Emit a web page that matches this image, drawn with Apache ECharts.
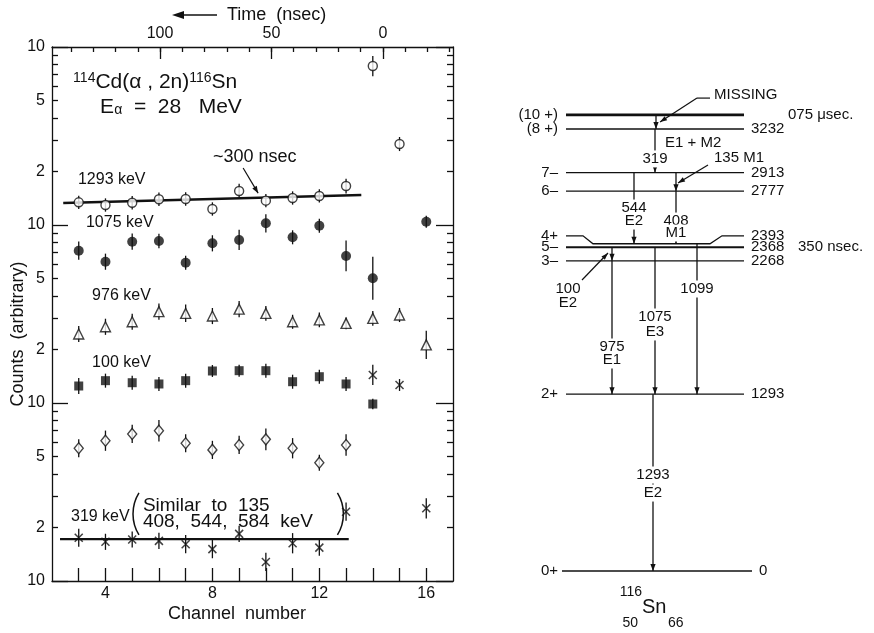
<!DOCTYPE html>
<html>
<head>
<meta charset="utf-8">
<script src="https://cdn.jsdelivr.net/npm/echarts@6/dist/echarts.min.js"></script>
<style>
  html, body { margin: 0; padding: 0; background: #fff; }
  #chart { width: 874px; height: 633px; }
</style>
</head>
<body>
<div id="chart"></div>
<script>
// ---------- Delayed-coincidence time spectra, 114Cd(a,2n)116Sn ----------
const channels = [3, 4, 5, 6, 7, 8, 9, 10, 11, 12, 13, 14, 15, 16];

// counts on the stacked log scale (each line sits in its own decade)
const counts1293 = [134.1, 129.5, 133.4, 139.5, 140.0, 123.0, 155.2, 137.0, 141.8, 145.6, 165.6, 782, 285, null];
const err1293    = [0.09, 0.09, 0.09, 0.09, 0.09, 0.09, 0.10, 0.09, 0.09, 0.09, 0.10, 0.14, 0.095, null];
const counts1075 = [71.7, 62.2, 80.6, 81.3, 61.4, 78.9, 82.4, 102.2, 85.3, 99.1, 67.0, 50.2, null, 104.3];
const err1075    = [0.125, 0.11, 0.11, 0.10, 0.095, 0.11, 0.14, 0.125, 0.095, 0.095, 0.22, 0.32, null, 0.08];
const counts976  = [24.4, 26.8, 28.6, 32.6, 31.9, 30.8, 33.7, 31.9, 28.6, 29.3, 28.0, 29.9, 31.2, 21.2];
const err976     = [0.11, 0.11, 0.11, 0.11, 0.12, 0.11, 0.11, 0.10, 0.095, 0.10, 0.08, 0.10, 0.095, 0.20];
const counts100  = [12.46, 13.35, 13.0, 12.79, 13.35, 15.13, 15.19, 15.19, 13.17, 14.05, 12.79, 9.87, null, null];
const err100     = [0.11, 0.095, 0.095, 0.095, 0.095, 0.08, 0.08, 0.095, 0.095, 0.095, 0.095, 0.07, null, null];
const countsOpenDiamond = [5.57, 6.14, 6.70, 6.99, 5.94, 5.45, 5.81, 6.25, 5.57, 4.62, 5.81, null, null, null];
const errOpenDiamond    = [0.125, 0.14, 0.125, 0.15, 0.125, 0.125, 0.125, 0.15, 0.14, 0.11, 0.15, null, null, null];
const counts319  = [1.75, 1.66, 1.71, 1.68, 1.61, 1.51, 1.84, 1.28, 1.63, 1.54, 2.45, 14.37, 12.62, 2.56];
const err319     = [0.125, 0.11, 0.11, 0.11, 0.125, 0.125, 0.11, 0.125, 0.14, 0.11, 0.125, 0.14, 0.08, 0.14];

// fitted decay lines
const fit1293Channels = [2.42, 13.57];
const fit1293Counts   = [132.9, 147.4];
const fit319Channels  = [2.3, 13.1];
const fit319Counts    = [1.72, 1.72];

// axis ticks and labels
const channelTickValues  = [3, 4, 5, 6, 7, 8, 9, 10, 11, 12, 13, 14, 15, 16];
const channelLabelValues = [4, 8, 12, 16];
const timeTickValues  = [-30, -20, -10, 0, 10, 20, 30, 40, 50, 60, 70, 80, 90, 100, 110, 120, 130, 140];
const timeLabelValues = [0, 50, 100];
const countDecades    = [1, 10, 100, 1000];
const countMantissaTicks  = [2, 3, 4, 5, 6, 7, 8, 9];
const countMantissaLabels = [1, 2, 5];
const nsPerChannel  = 12;
const promptChannel = 14.375;

// ---------- Level scheme of 116Sn ----------
const levelSpin   = ['0+', '2+', '3\u2013', '5\u2013', '4+', '6\u2013', '7\u2013', '(8 +)', '(10 +)'];
const levelEnergy = [0, 1293, 2268, 2368, 2393, 2777, 2913, 3232, 3335];
const levelText   = ['0', '1293', '2268', '2368', '2393', '2777', '2913', '3232', ''];
const levelLife   = ['', '', '', '350 nsec.', '', '', '', '', '075 \u03bcsec.'];

const transFrom = [8, 7, 6, 6, 5, 3, 2, 3, 4, 1];
const transTo   = [7, 6, 5, 4, 4, 2, 1, 1, 1, 0];
const transGamma = ['', '319', '135', '544', '408', '100', '975', '1075', '1099', '1293'];
const transMult  = ['', 'E1 + M2', 'M1', 'E2', 'M1', 'E2', 'E1', 'E3', '', 'E2'];

// ---------- drawing ----------
const FONT = '"Liberation Sans", Arial, sans-serif';
const INK = '#111';

const chart = echarts.init(document.getElementById('chart'), null, { renderer: 'canvas' });

function pts(vals) {
  const out = [];
  vals.forEach((v, i) => { if (v != null) out.push([channels[i], v]); });
  return out;
}
function bars(vals, errs) {
  const out = [];
  vals.forEach((v, i) => {
    if (v != null) out.push([channels[i], v / (1 + errs[i]), v * (1 + errs[i])]);
  });
  return out;
}
function log10(v) { return Math.log(v) / Math.LN10; }

function seg(p, q, w) {
  return { type: 'line', shape: { x1: p[0], y1: p[1], x2: q[0], y2: q[1] },
           style: { stroke: INK, lineWidth: w || 1.3 } };
}
function head(tip, from, len, half) {
  const dx = tip[0] - from[0], dy = tip[1] - from[1];
  const d = Math.hypot(dx, dy) || 1, ux = dx / d, uy = dy / d;
  const bx = tip[0] - ux * len, by = tip[1] - uy * len;
  return { type: 'polygon',
           shape: { points: [[tip[0], tip[1]], [bx - uy * half, by + ux * half], [bx + uy * half, by - ux * half]] },
           style: { fill: INK } };
}
function txt(p, s, extra) {
  return { type: 'text', x: p[0], y: p[1],
           style: Object.assign({ text: s, fill: INK, font: '15px ' + FONT,
                                  align: 'center', verticalAlign: 'middle' }, extra || {}) };
}

// error bar series
function errorSeries(vals, errs) {
  return {
    type: 'custom', xAxisIndex: 0, yAxisIndex: 0, z: 2, silent: true,
    data: bars(vals, errs),
    encode: { x: 0, y: [1, 2] },
    renderItem(params, api) {
      const lo = api.coord([api.value(0), api.value(1)]);
      const hi = api.coord([api.value(0), api.value(2)]);
      return seg(lo, hi, 1.3);
    }
  };
}
function markerSeries(name, vals, symbol, size, filled) {
  return {
    name, type: 'scatter', xAxisIndex: 0, yAxisIndex: 0, z: 4,
    data: pts(vals), symbol, symbolSize: size,
    itemStyle: filled ? { color: INK } : { color: '#fff', borderColor: INK, borderWidth: 1.4 }
  };
}

// text placed on the counts plot (channel, counts)
const plotNotes = [
  { t: '1293 keV', ch: 2.97, v: 179, size: 16 },
  { t: '1075 keV', ch: 3.27, v: 102.6, size: 16 },
  { t: '976 keV', ch: 3.5, v: 39.9, size: 16 },
  { t: '100 keV', ch: 3.5, v: 16.8, size: 16 },
  { t: '319 keV', ch: 2.71, v: 2.29, size: 16 },
  { t: 'Similar  to  135', ch: 5.4, v: 2.66, size: 19 },
  { t: '408,  544,  584  keV', ch: 5.4, v: 2.15, size: 19 },
  { t: '~300 nsec', ch: 8.02, v: 241, size: 18 }
];

const notesSeries = {
  type: 'custom', xAxisIndex: 0, yAxisIndex: 0, z: 5, silent: true, clip: false,
  data: [[8, 10]],
  renderItem(params, api) {
    const c = (ch, v) => api.coord([ch, v]);
    const kids = plotNotes.map(n => txt(c(n.ch, n.v), n.t, { align: 'left', font: n.size + 'px ' + FONT }));
    // reaction and beam energy
    kids.push({ type: 'text', x: c(2.79, 636)[0], y: c(2.79, 636)[1],
      style: { text: '{s|114}Cd(\u03b1 , 2n){s|116}Sn', fill: INK, font: '21px ' + FONT,
               align: 'left', verticalAlign: 'middle',
               rich: { s: { font: '14px ' + FONT, verticalAlign: 'top', fill: INK } } } });
    kids.push({ type: 'text', x: c(3.8, 460)[0], y: c(3.8, 460)[1],
      style: { text: 'E{b|\u03b1}  =  28   MeV', fill: INK, font: '21px ' + FONT,
               align: 'left', verticalAlign: 'middle',
               rich: { b: { font: '14px ' + FONT, verticalAlign: 'bottom', fill: INK } } } });
    // arrow pointing to the 1293 keV slope
    const a0 = c(9.15, 209), a1 = c(9.71, 151);
    kids.push(seg(a0, a1, 1.2), head(a1, a0, 7, 2.6));
    // large brackets round the note on 319 keV
    const lp = c(5.03, 2.38), rp = c(12.9, 2.38);
    const r = 40, half = Math.asin(21 / r);
    kids.push({ type: 'arc', shape: { cx: lp[0] + r, cy: lp[1], r, startAngle: Math.PI - half, endAngle: Math.PI + half },
                style: { stroke: INK, fill: null, lineWidth: 1.5 } });
    kids.push({ type: 'arc', shape: { cx: rp[0] - r, cy: rp[1], r, startAngle: -half, endAngle: half },
                style: { stroke: INK, fill: null, lineWidth: 1.5 } });
    return { type: 'group', children: kids };
  }
};

// level scheme layout (scheme x units, energies in keV)
const lineSpan = [26, 204];
const zeroSpan = [22, 212];
const kinkLift = 58;               // outer arms of the 4+ line drawn above 5-
const transX = [116, 115, 136, 94, 136, 72, 72, 115, 157, 113];

const schemeSeries = {
  type: 'custom', xAxisIndex: 3, yAxisIndex: 5, z: 3, silent: true, clip: false,
  data: [[0, 0]],
  renderItem(params, api) {
    const P = (x, e) => api.coord([x, e]);
    const kids = [];
    // levels
    levelEnergy.forEach((e, i) => {
      const span = i === 0 ? zeroSpan : lineSpan;
      const w = i === 8 ? 2.6 : (i === 3 ? 2.0 : 1.3);
      let labelE = e;
      if (i === 4) {
        labelE = e + kinkLift;
        kids.push({ type: 'polyline', shape: { points: [
          P(span[0], labelE), P(43, labelE), P(53, e), P(170, e), P(182, labelE), P(span[1], labelE)] },
          style: { stroke: INK, lineWidth: w, fill: null } });
      } else {
        kids.push(seg(P(span[0], e), P(span[1], e), w));
      }
      kids.push(txt(P(18, labelE), levelSpin[i], { align: 'right' }));
      if (levelText[i]) kids.push(txt(P(span[1] + 7, labelE), levelText[i], { align: 'left' }));
      if (levelLife[i]) kids.push(txt(P(i === 8 ? 248 : 258, e), levelLife[i], { align: 'left' }));
    });
    // transitions
    transFrom.forEach((f, k) => {
      const x = transX[k];
      const top = P(x, levelEnergy[f]), bot = P(x, levelEnergy[transTo[k]]);
      kids.push(seg(top, bot, 1.3), head(bot, top, 7, 2.6));
    });
    // transition labels (white boxes interrupt the lines)
    const box = { backgroundColor: '#fff', padding: [1, 2] };
    const L = (x, e, s, extra) => kids.push(txt(P(x, e), s, Object.assign({}, box, extra || {})));
    L(115, 3013, transGamma[1]);
    L(123, 3130, transMult[1], { align: 'left', backgroundColor: null });
    L(94, 2654, transGamma[3]); L(94, 2559, transMult[3]);
    L(136, 2559, transGamma[4]); L(136, 2471, transMult[4]);
    L(72, 1638, transGamma[6]); L(72, 1543, transMult[6]);
    L(115, 1857, transGamma[7]); L(115, 1748, transMult[7]);
    L(157, 2062, transGamma[8]);
    L(113, 702, transGamma[9]); L(113, 570, transMult[9]);
    // pointer labels
    L(172, 3020, transGamma[2] + ' ' + transMult[2], { align: 'left', backgroundColor: null });
    kids.push(seg(P(168, 2969), P(138, 2837), 1.2), head(P(138, 2837), P(168, 2969), 7, 2.4));
    L(28, 2062, transGamma[5], { backgroundColor: null }); L(28, 1960, transMult[5], { backgroundColor: null });
    kids.push(seg(P(42, 2128), P(68, 2325), 1.2), head(P(68, 2325), P(42, 2128), 7, 2.4));
    L(172, 3480, 'MISSING', { align: 'left', backgroundColor: null });
    kids.push(seg(P(170, 3458), P(157, 3458), 1.2), seg(P(157, 3458), P(120, 3283), 1.2),
              head(P(120, 3283), P(157, 3458), 7, 2.4));
    // nucleus label
    kids.push(txt(P(102, -154), '116', { align: 'right', font: '14px ' + FONT }));
    kids.push(txt(P(102, -270), 'Sn', { align: 'left', font: '20px ' + FONT }));
    kids.push(txt(P(98, -380), '50', { align: 'right', font: '14px ' + FONT }));
    kids.push(txt(P(128, -380), '66', { align: 'left', font: '14px ' + FONT }));
    return { type: 'group', children: kids };
  }
};

const axisFont = { color: INK, fontSize: 16, fontFamily: FONT };
const inkLine = { color: INK, width: 1.3 };
const logTicks = [];
countDecades.slice(0, 3).forEach(d => countMantissaTicks.forEach(m => logTicks.push(log10(d * m))));
const logLabels = [];
countDecades.slice(0, 3).forEach(d => countMantissaLabels.forEach(m => logLabels.push(log10(d * m))));
logLabels.push(log10(countDecades[3]));
const logMajor = countDecades.map(log10);
const decadeAxis = (position, ticks, len, extra) => Object.assign({
  gridIndex: 0, type: 'value', min: 0, max: 3, position,
  axisLine: { show: false, onZero: false, lineStyle: inkLine },
  axisTick: { show: true, inside: true, length: len, customValues: ticks, lineStyle: inkLine },
  axisLabel: { show: false }, splitLine: { show: false }
}, extra || {});

const tMin = -(17 - promptChannel) * nsPerChannel;
const tMax = (promptChannel - 2) * nsPerChannel;

const option = {
  animation: false,
  backgroundColor: '#fff',
  textStyle: { fontFamily: FONT, color: INK },
  grid: [
    { left: 52, top: 47, width: 401, height: 534, outerBoundsMode: 'none' },
    { left: 540, top: 0, width: 334, height: 633, outerBoundsMode: 'none' }
  ],
  xAxis: [
    { gridIndex: 0, type: 'value', min: 2, max: 17, position: 'bottom',
      axisLine: { onZero: false, lineStyle: inkLine },
      axisTick: { inside: true, length: 13, customValues: channelTickValues, lineStyle: inkLine },
      axisLabel: Object.assign({ customValues: channelLabelValues, margin: 5 }, axisFont),
      splitLine: { show: false } },
    { gridIndex: 0, type: 'value', min: tMin, max: tMax, inverse: true, position: 'top',
      axisLine: { onZero: false, lineStyle: inkLine },
      axisTick: { inside: true, length: 5, customValues: timeTickValues, lineStyle: inkLine },
      axisLabel: Object.assign({ customValues: timeLabelValues, margin: 5 }, axisFont),
      splitLine: { show: false } },
    { gridIndex: 0, type: 'value', min: tMin, max: tMax, inverse: true, position: 'top',
      axisLine: { show: false, onZero: false },
      axisTick: { inside: true, length: 12, customValues: timeLabelValues, lineStyle: inkLine },
      axisLabel: { show: false }, splitLine: { show: false } },
    { gridIndex: 1, type: 'value', min: 0, max: 334, show: false }
  ],
  yAxis: [
    { gridIndex: 0, type: 'log', min: 1, max: 1000, position: 'left',
      axisLine: { show: true, onZero: false, lineStyle: inkLine },
      axisTick: { show: false }, axisLabel: { show: false }, splitLine: { show: false }, minorTick: { show: false } },
    decadeAxis('left', logTicks, 6, {
      axisLabel: Object.assign({ show: true, customValues: logLabels, margin: 7,
        formatter: v => { const f = v - Math.floor(v + 1e-9); const m = Math.round(Math.pow(10, f)); return m === 1 ? '10' : String(m); } }, axisFont) }),
    decadeAxis('left', logMajor, 16),
    decadeAxis('right', logTicks, 6, { axisLine: { show: true, onZero: false, lineStyle: inkLine } }),
    decadeAxis('right', logMajor, 17),
    { gridIndex: 1, type: 'value', min: -453.3, max: 4175.2, show: false }
  ],
  graphic: [
    { type: 'line', shape: { x1: 217, y1: 15, x2: 180, y2: 15 }, style: { stroke: INK, lineWidth: 1.5 } },
    { type: 'polygon', shape: { points: [[172, 15], [184, 11], [184, 19]] }, style: { fill: INK } },
    { type: 'text', x: 227, y: 15, style: { text: 'Time  (nsec)', fill: INK, font: '18px ' + FONT, align: 'left', verticalAlign: 'middle' } },
    { type: 'text', x: 237, y: 614, style: { text: 'Channel  number', fill: INK, font: '18px ' + FONT, align: 'center', verticalAlign: 'middle' } },
    { type: 'text', x: 18, y: 334, rotation: Math.PI / 2,
      style: { text: 'Counts  (arbitrary)', fill: INK, font: '18px ' + FONT, align: 'center', verticalAlign: 'middle' } }
  ],
  series: [
    errorSeries(counts1293, err1293),
    errorSeries(counts1075, err1075),
    errorSeries(counts976, err976),
    errorSeries(counts100, err100),
    errorSeries(countsOpenDiamond, errOpenDiamond),
    errorSeries(counts319, err319),
    { name: '1293 keV fit', type: 'line', xAxisIndex: 0, yAxisIndex: 0, z: 3, symbol: 'none',
      data: fit1293Channels.map((c, i) => [c, fit1293Counts[i]]), lineStyle: { color: INK, width: 2.6 } },
    { name: '319 keV fit', type: 'line', xAxisIndex: 0, yAxisIndex: 0, z: 3, symbol: 'none',
      data: fit319Channels.map((c, i) => [c, fit319Counts[i]]), lineStyle: { color: INK, width: 2.2 } },
    markerSeries('1293 keV', counts1293, 'circle', 9, false),
    markerSeries('1075 keV', counts1075, 'circle', 10, true),
    markerSeries('976 keV', counts976, 'triangle', 10, false),
    markerSeries('100 keV', counts100, 'rect', 9, true),
    markerSeries('diamond', countsOpenDiamond, 'diamond', [9, 11], false),
    { name: '319 keV', type: 'scatter', xAxisIndex: 0, yAxisIndex: 0, z: 4,
      data: pts(counts319), symbol: 'path://M0,0L10,10M10,0L0,10', symbolSize: 8,
      itemStyle: { color: 'none', borderColor: INK, borderWidth: 1.5 } },
    notesSeries,
    schemeSeries
  ]
};
chart.setOption(option);
</script>
</body>
</html>
